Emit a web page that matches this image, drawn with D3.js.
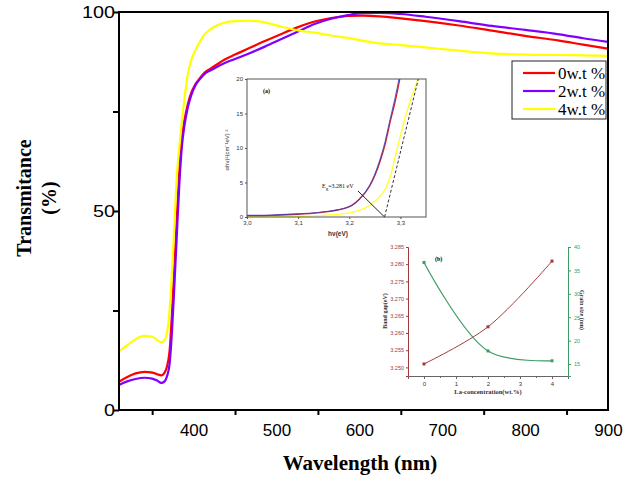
<!DOCTYPE html>
<html>
<head>
<meta charset="utf-8">
<script src="https://cdn.jsdelivr.net/npm/d3@7"></script>
<style>
  body { margin: 0; background: #fff; }
</style>
</head>
<body>
<script>
// ---- main transmittance data ----
var wavelength = [310, 320, 330, 341, 350, 356, 361, 365, 368, 371, 374, 377, 380, 383, 386, 389, 393, 397, 402, 407,
                  413, 420, 428, 437, 450, 466, 486, 506, 526, 546, 566, 586, 604, 625, 650, 680, 720, 760, 800, 841, 870, 900];
var t0 = [7.1, 8.3, 9.2, 9.6, 9.4, 9.0, 8.7, 9.4, 11.0, 14.8, 24.5, 36.5, 49.5, 61, 68.8, 72.8, 76.8, 79.6, 81.8, 83.2,
          84.7, 85.7, 86.8, 88.0, 89.3, 90.8, 92.7, 94.5, 96.2, 97.6, 98.5, 99.0, 99.1, 98.9, 98.4, 97.7, 96.6, 95.3, 94.0, 92.8, 91.8, 90.8];
var t2 = [6.3, 7.2, 7.8, 8.1, 7.9, 7.4, 6.8, 7.2, 8.5, 11.5, 20, 32, 45, 57.5, 66.5, 71.5, 76, 79, 81.5, 83.0,
          84.4, 85.3, 86.2, 87.1, 88.2, 89.5, 91.3, 93.2, 95.1, 97.0, 98.3, 99.2, 99.7, 99.8, 99.5, 98.8, 97.7, 96.5, 95.5, 94.4, 93.4, 92.5];
var t4 = [14.7, 16.3, 17.8, 18.6, 18.4, 17.6, 17.0, 17.6, 19.5, 25, 35, 47.5, 59.5, 66.5, 72.8, 78.2, 84.3, 87.8, 90.3, 92.3,
          94.3, 95.6, 96.6, 97.3, 97.7, 97.8, 97.4, 96.3, 95.4, 94.8, 94.1, 93.5, 92.8, 92.1, 91.7, 91.1, 90.3, 89.6, 89.3, 89.2, 89.1, 89.0];
var seriesNames = ['0w.t %', '2w.t %', '4w.t %'];
var seriesColors = ['#ff0000', '#8000ff', '#ffff00'];
var xTicksMinor = [350, 450, 550, 650, 750, 850];
var xTickLabels = [400, 500, 600, 700, 800, 900];
var yTicks = [0, 25, 50, 75, 100];
var yTickLabels = [0, 50, 100];

// ---- inset (a): Tauc plot ----
var hvA = [3.00, 3.05, 3.10, 3.15, 3.20, 3.22, 3.24, 3.25, 3.26, 3.27, 3.28, 3.29, 3.30, 3.31];
var tauc0 = [0.2, 0.25, 0.4, 0.7, 1.5, 2.6, 4.5, 6.0, 8.0, 10.5, 13.8, 16.8, 20.5, 25];
var tauc2 = [0.25, 0.3, 0.45, 0.75, 1.5, 2.6, 4.6, 6.2, 8.3, 10.9, 14.2, 17.4, 21, 25];
var hvY = [3.00, 3.05, 3.10, 3.15, 3.20, 3.22, 3.24, 3.26, 3.27, 3.28, 3.29, 3.30, 3.31, 3.32, 3.33, 3.34];
var tauc4 = [0, 0.03, 0.1, 0.25, 0.6, 0.95, 1.7, 3.0, 4.0, 5.8, 8.8, 11.8, 14.6, 17.0, 19.1, 21.2];
var fitHv = [3.269, 3.335];
var fitVal = [0, 20];
var aXTicks = [3.0, 3.1, 3.2, 3.3];
var aYTicks = [0, 5, 10, 15, 20];

// ---- inset (b): band gap & grain size ----
var laConc = [0, 2, 4];
var bandGap = [3.2510, 3.2618, 3.2809];
var grainSize = [36.7, 17.8, 15.7];
var bXTicks = [0, 1, 2, 3, 4];
var bgTicks = [3.250, 3.255, 3.260, 3.265, 3.270, 3.275, 3.280, 3.285];
var gsTicks = [15, 20, 25, 30, 35, 40];

var svg = d3.select('body').append('svg')
    .attr('width', 643)
    .attr('height', 479);

// ================= main chart =================
var x = d3.scaleLinear().domain([310, 900]).range([119, 608]);
var y = d3.scaleLinear().domain([0, 100]).range([410, 12]);

svg.append('g')
    .attr('transform', 'translate(0,410)')
    .call(d3.axisBottom(x).tickValues(xTicksMinor).tickSize(5).tickFormat(''))
    .call(function(g) { g.select('.domain').remove(); })
    .selectAll('line').attr('stroke-width', 2);

svg.append('g')
    .attr('transform', 'translate(0,410)')
    .call(d3.axisBottom(x).tickValues(xTickLabels).tickSize(0).tickPadding(14))
    .call(function(g) { g.select('.domain').remove(); })
    .selectAll('text')
    .attr('font-family', 'Liberation Sans, Arial, sans-serif')
    .attr('font-size', 17)
    .attr('fill', '#000');

svg.append('g')
    .attr('transform', 'translate(119,0)')
    .call(d3.axisLeft(y).tickValues(yTicks).tickSize(6).tickFormat(''))
    .call(function(g) { g.select('.domain').remove(); })
    .selectAll('line').attr('stroke-width', 2);

svg.append('g')
    .attr('transform', 'translate(119,0)')
    .call(d3.axisLeft(y).tickValues(yTickLabels).tickSize(0).tickPadding(4))
    .call(function(g) { g.select('.domain').remove(); })
    .selectAll('text')
    .attr('font-family', 'Liberation Sans, Arial, sans-serif')
    .attr('font-size', 17)
    .attr('fill', '#000')
    .attr('textLength', function(d) { return String(d).length * 11; })
    .attr('lengthAdjust', 'spacingAndGlyphs');

var line = d3.line()
    .x(function(d) { return x(d[0]); })
    .y(function(d) { return y(d[1]); })
    .curve(d3.curveMonotoneX);

svg.append('clipPath').attr('id', 'mainclip')
    .append('rect').attr('x', 119).attr('y', 12).attr('width', 489).attr('height', 398);

[t0, t2, t4].forEach(function(vals, i) {
    svg.append('path')
        .datum(d3.zip(wavelength, vals))
        .attr('clip-path', 'url(#mainclip)')
        .attr('d', line)
        .attr('fill', 'none')
        .attr('stroke', seriesColors[i])
        .attr('stroke-width', 2.2);
});

// frame
svg.append('rect')
    .attr('x', 119)
    .attr('y', 12)
    .attr('width', 489)
    .attr('height', 398)
    .attr('fill', 'none')
    .attr('stroke', '#000')
    .attr('stroke-width', 2);

// axis titles
svg.append('text')
    .attr('transform', 'translate(31,198) rotate(-90)')
    .attr('text-anchor', 'middle')
    .attr('font-family', 'Liberation Serif, Times New Roman, serif')
    .attr('font-weight', 'bold')
    .attr('font-size', 20)
    .text('Transmitance');

svg.append('text')
    .attr('transform', 'translate(56,198) rotate(-90)')
    .attr('text-anchor', 'middle')
    .attr('font-family', 'Liberation Serif, Times New Roman, serif')
    .attr('font-weight', 'bold')
    .attr('font-size', 20)
    .text('(%)');

svg.append('text')
    .attr('x', 360)
    .attr('y', 470)
    .attr('text-anchor', 'middle')
    .attr('font-family', 'Liberation Serif, Times New Roman, serif')
    .attr('font-weight', 'bold')
    .attr('font-size', 21)
    .text('Wavelength (nm)');

// legend
var legend = svg.append('g');
legend.append('rect')
    .attr('x', 512)
    .attr('y', 61)
    .attr('width', 94)
    .attr('height', 58)
    .attr('fill', '#fff')
    .attr('stroke', '#222')
    .attr('stroke-width', 1);

seriesNames.forEach(function(name, i) {
    legend.append('line')
        .attr('x1', 523)
        .attr('x2', 555)
        .attr('y1', 73 + i * 18)
        .attr('y2', 73 + i * 18)
        .attr('stroke', seriesColors[i])
        .attr('stroke-width', 2.2);
    legend.append('text')
        .attr('x', 558)
        .attr('y', 79 + i * 18)
        .attr('font-family', 'Liberation Serif, Times New Roman, serif')
        .attr('font-size', 17)
        .text(name);
});

// ================= inset (a) =================
var ax = d3.scaleLinear().domain([3.0, 3.35]).range([247, 426]);
var ay = d3.scaleLinear().domain([0, 20]).range([217, 79]);

svg.append('rect')
    .attr('x', 247).attr('y', 79).attr('width', 179).attr('height', 138)
    .attr('fill', '#fff');

svg.append('clipPath').attr('id', 'aclip')
    .append('rect').attr('x', 247).attr('y', 79).attr('width', 179).attr('height', 138);

var aline = d3.line()
    .x(function(d) { return ax(d[0]); })
    .y(function(d) { return ay(d[1]); })
    .curve(d3.curveMonotoneX);

svg.append('path')
    .datum(d3.zip(hvY, tauc4))
    .attr('clip-path', 'url(#aclip)')
    .attr('d', aline)
    .attr('fill', 'none')
    .attr('stroke', '#ffff30')
    .attr('stroke-width', 1.3);

svg.append('path')
    .datum(d3.zip(hvA, tauc0))
    .attr('clip-path', 'url(#aclip)')
    .attr('d', aline)
    .attr('fill', 'none')
    .attr('stroke', '#e02020')
    .attr('stroke-width', 1.3);

svg.append('path')
    .datum(d3.zip(hvA, tauc2))
    .attr('clip-path', 'url(#aclip)')
    .attr('d', aline)
    .attr('fill', 'none')
    .attr('stroke', '#4040c0')
    .attr('stroke-width', 1.1)
    .attr('opacity', 0.85);

svg.append('path')
    .datum(d3.zip(fitHv, fitVal))
    .attr('d', d3.line().x(function(d) { return ax(d[0]); }).y(function(d) { return ay(d[1]); }))
    .attr('fill', 'none')
    .attr('stroke', '#333')
    .attr('stroke-width', 1)
    .attr('stroke-dasharray', '3,2');

// Eg annotation pointer
svg.append('line')
    .attr('x1', 358).attr('y1', 191)
    .attr('x2', ax(fitHv[0])).attr('y2', ay(0))
    .attr('stroke', '#222')
    .attr('stroke-width', 1);

var eg = svg.append('text')
    .attr('x', 322)
    .attr('y', 188)
    .attr('font-family', 'Liberation Serif, Times New Roman, serif')
    .attr('font-size', 6)
    .attr('fill', '#111');
eg.append('tspan').text('E');
eg.append('tspan').attr('dy', 2).attr('font-size', 5).text('g');
eg.append('tspan').attr('dy', -2).text('=3.281 eV');

svg.append('rect')
    .attr('x', 247).attr('y', 79).attr('width', 179).attr('height', 138)
    .attr('fill', 'none')
    .attr('stroke', '#555')
    .attr('stroke-width', 1);

svg.append('g')
    .attr('transform', 'translate(0,217)')
    .call(d3.axisBottom(ax).tickValues(aXTicks).tickSize(2).tickPadding(2).tickFormat(function(d) { return d3.format('.1f')(d).replace('.', ','); }))
    .call(function(g) {
        g.select('.domain').remove();
        g.selectAll('line').attr('stroke', '#555');
        g.selectAll('text').attr('font-size', 6).attr('fill', '#333').attr('font-family', 'Liberation Sans, Arial, sans-serif');
    });

svg.append('g')
    .attr('transform', 'translate(247,0)')
    .call(d3.axisLeft(ay).tickValues(aYTicks).tickSize(2).tickPadding(2))
    .call(function(g) {
        g.select('.domain').remove();
        g.selectAll('line').attr('stroke', '#555');
        g.selectAll('text').attr('font-size', 6).attr('fill', '#333').attr('font-family', 'Liberation Sans, Arial, sans-serif');
    });

svg.append('text')
    .attr('x', 263).attr('y', 93)
    .attr('font-family', 'Liberation Serif, Times New Roman, serif')
    .attr('font-weight', 'bold')
    .attr('font-size', 6)
    .text('(a)');

svg.append('text')
    .attr('x', 338).attr('y', 236)
    .attr('text-anchor', 'middle')
    .attr('font-family', 'Liberation Sans, Arial, sans-serif')
    .attr('font-weight', 'bold')
    .attr('font-size', 6.5)
    .attr('fill', '#333')
    .text('hν(eV)');

svg.append('text')
    .attr('transform', 'translate(229,150) rotate(-90)')
    .attr('text-anchor', 'middle')
    .attr('font-family', 'Liberation Sans, Arial, sans-serif')
    .attr('font-size', 6)
    .attr('fill', '#333')
    .text('αhν)²(cm⁻¹eV) ²');

// ================= inset (b) =================
var bx = d3.scaleLinear().domain([-0.5, 4.5]).range([408, 568]);
var byL = d3.scaleLinear().domain([3.2475, 3.285]).range([376, 247]);
var byR = d3.scaleLinear().domain([12.45, 40]).range([376, 247]);
var bgColor = '#a03c3c';
var gsColor = '#3c9c64';

svg.append('g')
    .attr('transform', 'translate(0,376)')
    .call(d3.axisBottom(bx).tickValues(bXTicks).tickSize(3).tickPadding(3).tickFormat(d3.format('d')))
    .call(function(g) {
        g.select('.domain').attr('stroke', '#666');
        g.selectAll('line').attr('stroke', '#666');
        g.selectAll('text').attr('font-size', 6).attr('fill', '#333').attr('font-family', 'Liberation Sans, Arial, sans-serif');
    });

svg.append('g')
    .attr('transform', 'translate(0,376)')
    .call(d3.axisBottom(bx).tickValues([0.5, 1.5, 2.5, 3.5]).tickSize(2).tickFormat(''))
    .call(function(g) {
        g.select('.domain').remove();
        g.selectAll('line').attr('stroke', '#666');
    });

svg.append('g')
    .attr('transform', 'translate(408,0)')
    .call(d3.axisLeft(byL).tickValues(bgTicks).tickSize(2).tickPadding(2).tickFormat(d3.format('.3f')))
    .call(function(g) {
        g.select('.domain').attr('stroke', bgColor);
        g.selectAll('line').attr('stroke', bgColor);
        g.selectAll('text').attr('font-size', 5.5).attr('fill', bgColor).attr('font-family', 'Liberation Sans, Arial, sans-serif');
    });

svg.append('g')
    .attr('transform', 'translate(568,0)')
    .call(d3.axisRight(byR).tickValues(gsTicks).tickSize(3).tickPadding(3))
    .call(function(g) {
        g.select('.domain').attr('stroke', gsColor);
        g.selectAll('line').attr('stroke', gsColor);
        g.selectAll('text').attr('font-size', 5.5).attr('fill', gsColor).attr('font-family', 'Liberation Sans, Arial, sans-serif');
    });

var bline = d3.line()
    .x(function(d) { return bx(d[0]); })
    .y(function(d) { return byL(d[1]); })
    .curve(d3.curveCatmullRom);
var gline = d3.line()
    .x(function(d) { return bx(d[0]); })
    .y(function(d) { return byR(d[1]); })
    .curve(d3.curveCatmullRom);

svg.append('path')
    .datum(d3.zip(laConc, bandGap))
    .attr('d', bline)
    .attr('fill', 'none')
    .attr('stroke', bgColor)
    .attr('stroke-width', 1);

svg.append('path')
    .datum(d3.zip(laConc, grainSize))
    .attr('d', gline)
    .attr('fill', 'none')
    .attr('stroke', gsColor)
    .attr('stroke-width', 1.2);

svg.selectAll('.bgpt')
    .data(d3.zip(laConc, bandGap))
    .enter().append('rect')
    .attr('x', function(d) { return bx(d[0]) - 1.5; })
    .attr('y', function(d) { return byL(d[1]) - 1.5; })
    .attr('width', 3).attr('height', 3)
    .attr('fill', bgColor);

svg.selectAll('.gspt')
    .data(d3.zip(laConc, grainSize))
    .enter().append('rect')
    .attr('x', function(d) { return bx(d[0]) - 1.5; })
    .attr('y', function(d) { return byR(d[1]) - 1.5; })
    .attr('width', 3).attr('height', 3)
    .attr('fill', gsColor);

svg.append('text')
    .attr('x', 435).attr('y', 261)
    .attr('font-family', 'Liberation Serif, Times New Roman, serif')
    .attr('font-weight', 'bold')
    .attr('font-size', 6)
    .text('(b)');

svg.append('text')
    .attr('transform', 'translate(387,311) rotate(-90)')
    .attr('text-anchor', 'middle')
    .attr('font-family', 'Liberation Serif, Times New Roman, serif')
    .attr('font-weight', 'bold')
    .attr('font-size', 6)
    .attr('fill', '#333')
    .text('Band gap(eV)');

svg.append('text')
    .attr('transform', 'translate(580,310) rotate(90)')
    .attr('text-anchor', 'middle')
    .attr('font-family', 'Liberation Serif, Times New Roman, serif')
    .attr('font-weight', 'bold')
    .attr('font-size', 6)
    .attr('fill', '#333')
    .text('Grain size (nm)');

svg.append('text')
    .attr('x', 488).attr('y', 394)
    .attr('text-anchor', 'middle')
    .attr('font-family', 'Liberation Serif, Times New Roman, serif')
    .attr('font-weight', 'bold')
    .attr('font-size', 6.5)
    .attr('fill', '#333')
    .text('La-concentration(wt.%)');
</script>
</body>
</html>
